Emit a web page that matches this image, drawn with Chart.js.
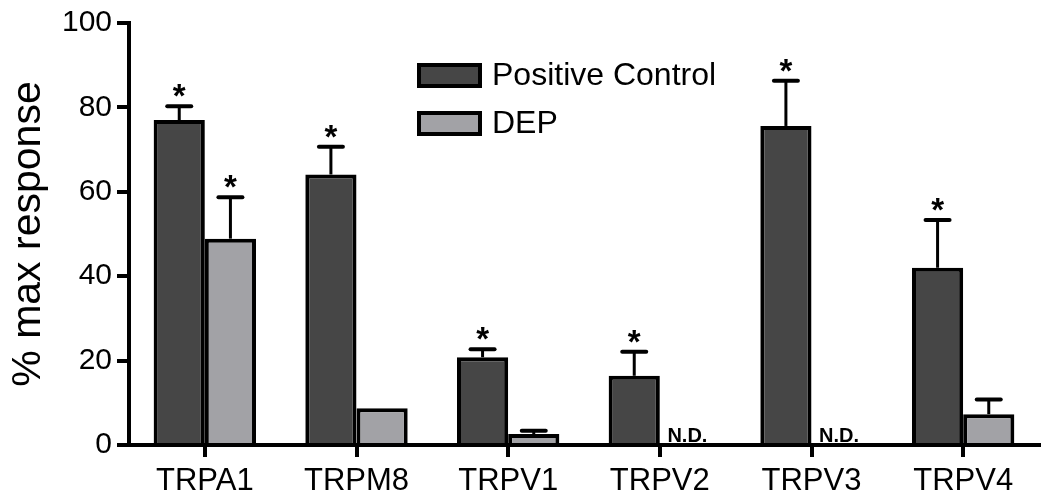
<!DOCTYPE html>
<html>
<head>
<meta charset="utf-8">
<script src="https://cdn.jsdelivr.net/npm/chart.js@4"></script>
<style>
  html, body { margin: 0; padding: 0; background: #fff; }
  #wrap { width: 1050px; height: 499px; }
</style>
</head>
<body>
<div id="wrap"><canvas id="chart" width="1050" height="499"></canvas></div>
<script>
// values
const channels = ['TRPA1', 'TRPM8', 'TRPV1', 'TRPV2', 'TRPV3', 'TRPV4'];
const positiveControl = [77.0, 64.1, 20.8, 16.4, 75.6, 42.0];
const positiveTop = [80.3, 70.7, 22.7, 22.1, 86.3, 53.3];   // mean + error
const dep = [48.9, 8.7, 2.6, null, null, 7.3];
const depTop = [58.7, null, 3.4, null, null, 10.8];
const positiveStar = [true, true, true, true, true, true];
const depStar = [true, false, false, false, false, false];
const yTicks = [0, 20, 40, 60, 80, 100];

const FONT = '"Liberation Sans", Arial, sans-serif';

// error bars, asterisks, N.D. labels and legend
const extras = {
    id: 'extras',
    afterDatasetsDraw(chart) {
        const ctx = chart.ctx;
        const y = chart.scales.y;
        const tops = [positiveTop, depTop];
        const stars = [positiveStar, depStar];
        ctx.save();
        ctx.strokeStyle = '#000';
        ctx.fillStyle = '#000';
        chart.data.datasets.forEach((ds, di) => {
            const meta = chart.getDatasetMeta(di);
            meta.data.forEach((bar, i) => {
                const x = bar.x;
                if (ds.data[i] === null) {
                    ctx.font = 'bold 20px ' + FONT;
                    ctx.textAlign = 'center';
                    ctx.textBaseline = 'alphabetic';
                    ctx.fillText('N.D.', x + 2, y.getPixelForValue(0) - 3);
                    return;
                }
                let capY = y.getPixelForValue(ds.data[i]);
                if (tops[di][i] !== null) {
                    capY = y.getPixelForValue(tops[di][i]);
                    ctx.lineCap = 'butt';
                    ctx.lineWidth = 3;
                    ctx.beginPath();
                    ctx.moveTo(x, y.getPixelForValue(ds.data[i]));
                    ctx.lineTo(x, capY);
                    ctx.stroke();
                    ctx.lineCap = 'round';
                    ctx.lineWidth = 4;
                    ctx.beginPath();
                    ctx.moveTo(x - 12, capY);
                    ctx.lineTo(x + 12, capY);
                    ctx.stroke();
                }
                if (stars[di][i]) {
                    ctx.font = 'bold 33px ' + FONT;
                    ctx.textAlign = 'center';
                    ctx.textBaseline = 'alphabetic';
                    ctx.fillText('*', x, capY + 1);
                }
            });
        });

        // legend
        const lx = 417, ly = [63, 111];
        chart.data.datasets.forEach((ds, di) => {
            ctx.fillStyle = ds.backgroundColor;
            ctx.fillRect(lx, ly[di], 65, 25);
            ctx.lineWidth = 4;
            ctx.lineCap = 'butt';
            ctx.strokeStyle = '#000';
            ctx.strokeRect(lx + 2, ly[di] + 2, 61, 21);
            ctx.fillStyle = '#000';
            ctx.font = '32px ' + FONT;
            ctx.textAlign = 'left';
            ctx.textBaseline = 'middle';
            ctx.fillText(ds.label, lx + 75, ly[di] + 13);
        });
        ctx.restore();
    }
};

new Chart(document.getElementById('chart'), {
    type: 'bar',
    data: {
        labels: channels,
        datasets: [
            {
                label: 'Positive Control',
                data: positiveControl,
                backgroundColor: '#464646',
                borderColor: '#000',
                borderWidth: 4
            },
            {
                label: 'DEP',
                data: dep,
                backgroundColor: '#a2a2a6',
                borderColor: '#000',
                borderWidth: 4
            }
        ]
    },
    options: {
        responsive: false,
        animation: false,
        devicePixelRatio: 1,
        layout: { padding: { top: 23, right: 11, left: 0, bottom: 0 } },
        datasets: { bar: { categoryPercentage: 0.675, barPercentage: 1 } },
        plugins: {
            legend: { display: false },
            tooltip: { enabled: false }
        },
        scales: {
            x: {
                grid: {
                    offset: false,
                    drawOnChartArea: false,
                    drawTicks: true,
                    tickLength: 12,
                    color: '#000',
                    lineWidth: 4
                },
                border: { display: true, color: '#000', width: 4 },
                ticks: {
                    color: '#000',
                    font: { family: FONT, size: 31 },
                    padding: 6,
                    maxRotation: 0
                },
                afterFit(scale) { scale.height = 54; }
            },
            y: {
                min: 0,
                max: 100,
                afterBuildTicks(scale) {
                    scale.ticks = yTicks.map(v => ({ value: v }));
                },
                grid: {
                    drawOnChartArea: false,
                    drawTicks: true,
                    tickLength: 12,
                    color: '#000',
                    lineWidth: 4
                },
                border: { display: true, color: '#000', width: 4 },
                ticks: {
                    color: '#000',
                    font: { family: FONT, size: 30 },
                    padding: 5
                },
                title: {
                    display: true,
                    text: '% max response',
                    color: '#000',
                    font: { family: FONT, size: 41 },
                    padding: 4
                },
                afterFit(scale) { scale.width = 129; }
            }
        }
    },
    plugins: [extras]
});
</script>
</body>
</html>
